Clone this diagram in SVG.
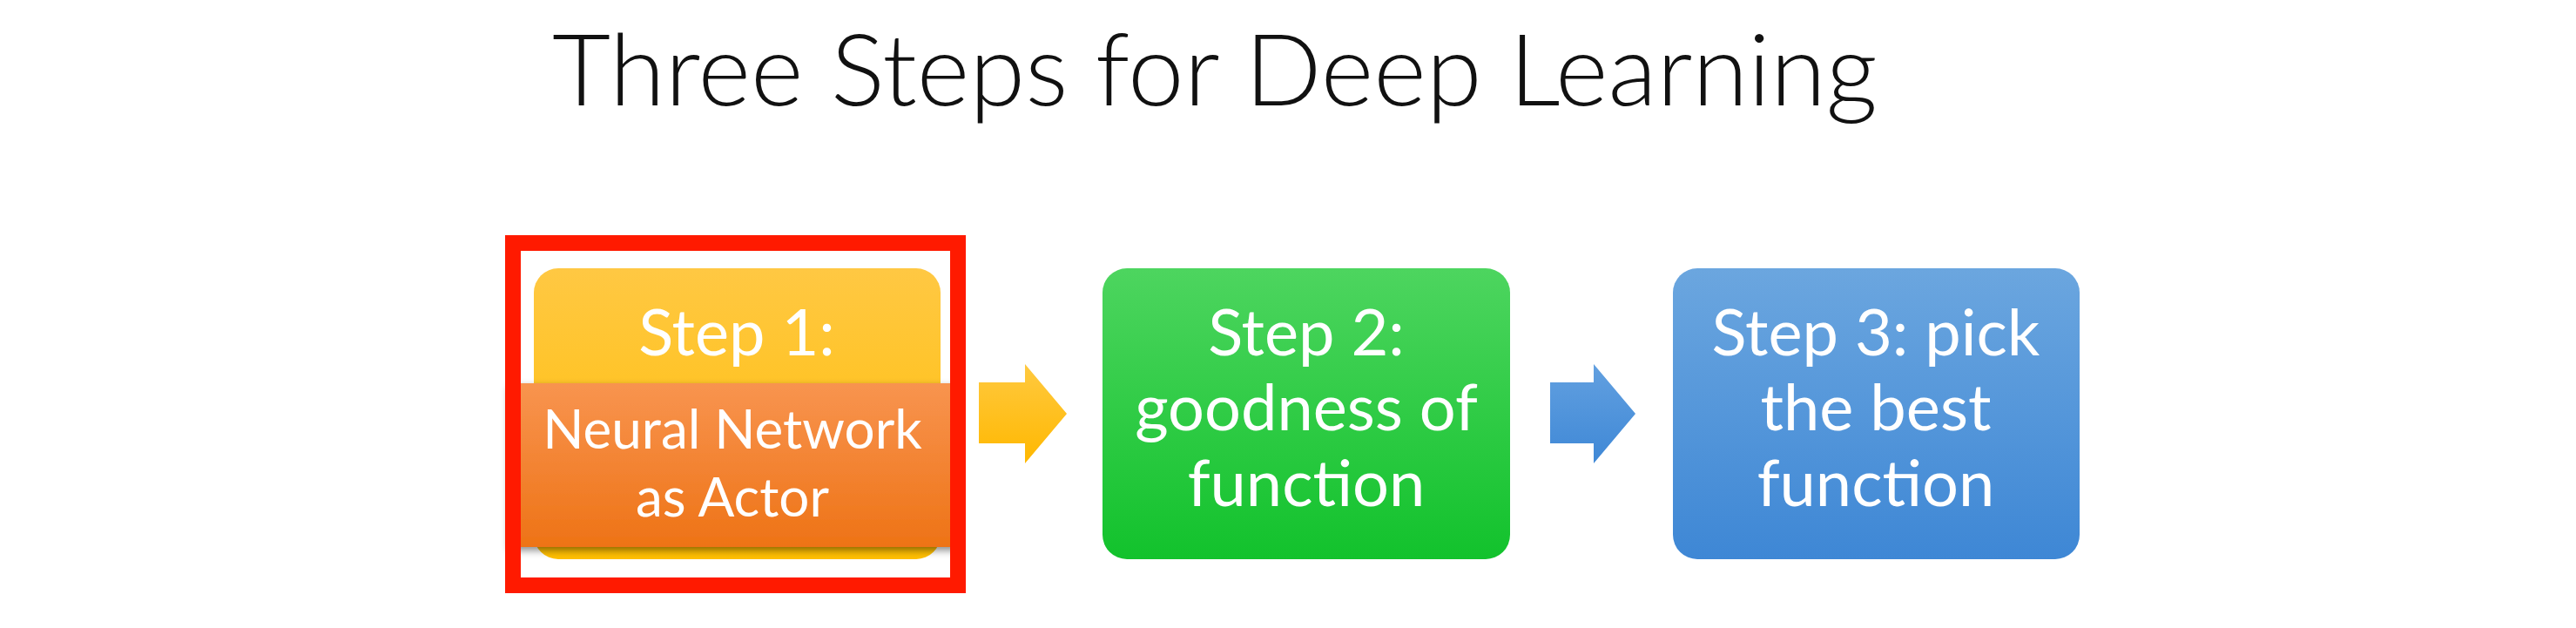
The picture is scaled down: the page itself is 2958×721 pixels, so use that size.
<svg xmlns="http://www.w3.org/2000/svg" width="2958" height="721" viewBox="0 0 2958 721">
<defs>
<linearGradient id="gY" x1="0" y1="0" x2="0" y2="1"><stop offset="0" stop-color="#FFC843"/><stop offset="1" stop-color="#FFBE00"/></linearGradient>
<linearGradient id="gO" x1="0" y1="0" x2="0" y2="1"><stop offset="0" stop-color="#F8944F"/><stop offset="1" stop-color="#EE7316"/></linearGradient>
<linearGradient id="gG" x1="0" y1="0" x2="0" y2="1"><stop offset="0" stop-color="#4DD55F"/><stop offset="1" stop-color="#12C22C"/></linearGradient>
<linearGradient id="gB" x1="0" y1="0" x2="0" y2="1"><stop offset="0" stop-color="#6BA6DF"/><stop offset="1" stop-color="#3E87D5"/></linearGradient>
<linearGradient id="gAY" x1="0" y1="0" x2="0" y2="1"><stop offset="0" stop-color="#FFC940"/><stop offset="1" stop-color="#FFB800"/></linearGradient>
<linearGradient id="gAB" x1="0" y1="0" x2="0" y2="1"><stop offset="0" stop-color="#62A0E0"/><stop offset="1" stop-color="#3F88D6"/></linearGradient>
<filter id="sh" x="-10%" y="-10%" width="120%" height="130%"><feDropShadow dx="0" dy="4" stdDeviation="4" flood-color="#000" flood-opacity="0.45"/></filter>
</defs>
<style>
.t{font-family:Lato,"Open Sans",sans-serif;fill:#FFFFFF;text-anchor:middle}
.b{font-size:74px}
.o{font-size:62px}
.title{font-family:Lato,"Open Sans",sans-serif;font-weight:300;font-size:114px;fill:#111}
</style>
<rect width="2958" height="721" fill="#FFFFFF"/>
<text class="title" x="634" y="121" textLength="1522" lengthAdjust="spacingAndGlyphs">Three Steps for Deep Learning</text>
<g id="step1">
<rect x="613" y="308" width="467" height="334" rx="28" fill="url(#gY)"/>
<text class="t b" x="846" y="408">Step 1:</text>
<rect x="584" y="440" width="516" height="188" fill="url(#gO)" filter="url(#sh)"/>
<text class="t o" x="841" y="515">Neural Network</text>
<text class="t o" x="841" y="593">as Actor</text>
</g>
<g id="highlight">
<rect x="589" y="279" width="511" height="393" fill="none" stroke="#FF1A00" stroke-width="18"/>
</g>
<g id="step2">
<rect x="1266" y="308" width="468" height="334" rx="28" fill="url(#gG)"/>
<text class="t b" x="1500" y="408">Step 2:</text>
<text class="t b" x="1500" y="494">goodness of</text>
<text class="t b" x="1500" y="581">function</text>
</g>
<g id="step3">
<rect x="1921" y="308" width="467" height="334" rx="28" fill="url(#gB)"/>
<text class="t b" x="2154" y="408">Step 3: pick</text>
<text class="t b" x="2154" y="494">the best</text>
<text class="t b" x="2154" y="581">function</text>
</g>
<g id="connectors">
<polygon points="1124,439 1177,439 1177,418 1225,475 1177,532 1177,509 1124,509" fill="url(#gAY)"/>
<polygon points="1780,439 1830,439 1830,418 1878,475 1830,532 1830,509 1780,509" fill="url(#gAB)"/>
</g>
</svg>
